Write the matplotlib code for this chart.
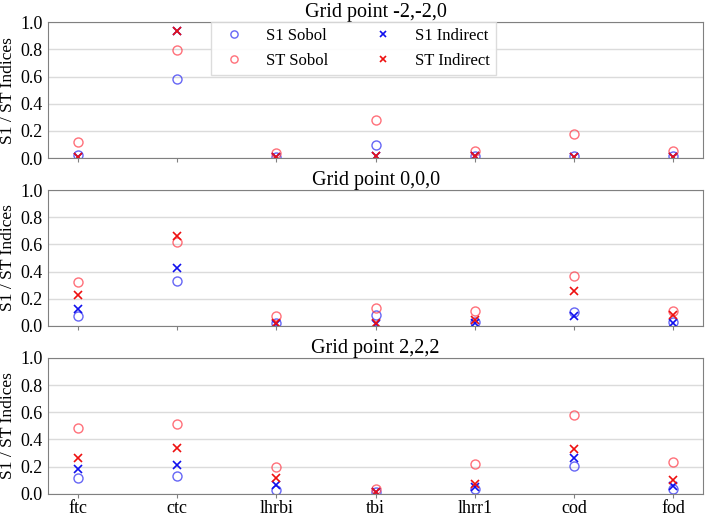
import numpy as np
import matplotlib.pyplot as plt

plt.rcParams["font.family"] = ["Liberation Serif", "DejaVu Serif"]

params = ["ftc", "ctc", "lhrbi", "tbi", "lhrr1", "cod", "fod"]
titles = ["Grid point -2,-2,0", "Grid point 0,0,0", "Grid point 2,2,2"]

# valores, un array por serie y punto de malla
s1_sobol = [
    [0.024, 0.58, 0.005, 0.10, 0.017, 0.012, 0.017],
    [0.076, 0.328, 0.02, 0.081, 0.03, 0.10, 0.027],
    [0.119, 0.127, 0.025, 0.015, 0.032, 0.203, 0.037],
]
st_sobol = [
    [0.117, 0.793, 0.041, 0.278, 0.056, 0.176, 0.051],
    [0.325, 0.618, 0.076, 0.13, 0.113, 0.367, 0.113],
    [0.481, 0.516, 0.194, 0.037, 0.218, 0.576, 0.236],
]
s1_indirect = [
    [0.01, 0.939, 0.005, 0.017, 0.017, 0.01, 0.01],
    [0.128, 0.426, 0.015, 0.015, 0.025, 0.074, 0.02],
    [0.181, 0.211, 0.062, 0.01, 0.05, 0.26, 0.057],
]
st_indirect = [
    [0.01, 0.939, 0.005, 0.017, 0.017, 0.01, 0.01],
    [0.23, 0.663, 0.02, 0.02, 0.04, 0.256, 0.081],
    [0.26, 0.34, 0.117, 0.015, 0.07, 0.33, 0.10],
]

x = np.arange(len(params))

fig, axes = plt.subplots(3, 1, figsize=(7.06, 5.17), dpi=100, sharex=True)
fig.subplots_adjust(left=0.068, right=0.996, top=0.957, bottom=0.045, hspace=0.235)

for i, ax in enumerate(axes):
    ax.plot(x, s1_sobol[i], "o", mfc="none", mec=(0.2, 0.2, 0.95, 0.75),
            ms=6.5, mew=1.0, label="S1 Sobol")
    ax.plot(x, st_sobol[i], "o", mfc="none", mec=(1.0, 0.25, 0.3, 0.75),
            ms=6.5, mew=1.0, label="ST Sobol")
    ax.plot(x, s1_indirect[i], "x", color="#1010ee", ms=6, mew=1.2,
            label="S1 Indirect")
    ax.plot(x, st_indirect[i], "x", color="#ee1010", ms=6, mew=1.2,
            label="ST Indirect")
    ax.set_ylim(0, 1.0)
    ax.set_yticks(np.arange(0, 1.01, 0.2))
    ax.yaxis.grid(True, color="0.86", lw=1.0)
    ax.set_axisbelow(True)
    ax.set_ylabel("S1 / ST Indices", fontsize=12.5, labelpad=3)
    ax.set_title(titles[i], fontsize=14.5, pad=3)
    for s in ax.spines.values():
        s.set_color("0.5")
    ax.tick_params(axis="y", length=0, labelsize=13, pad=4)
    ax.tick_params(axis="x", length=3, color="0.5", labelsize=13, pad=1.5)

axes[-1].set_xticks(x)
axes[-1].set_xticklabels(params)

axes[0].legend(ncol=2, loc="upper center", bbox_to_anchor=(0.466, 1.005),
               fontsize=12, borderaxespad=0, columnspacing=2.3,
               handletextpad=0.9, edgecolor="0.85", framealpha=0.9,
               fancybox=False, markerscale=0.8)

fig.savefig("out.png", dpi=100)
